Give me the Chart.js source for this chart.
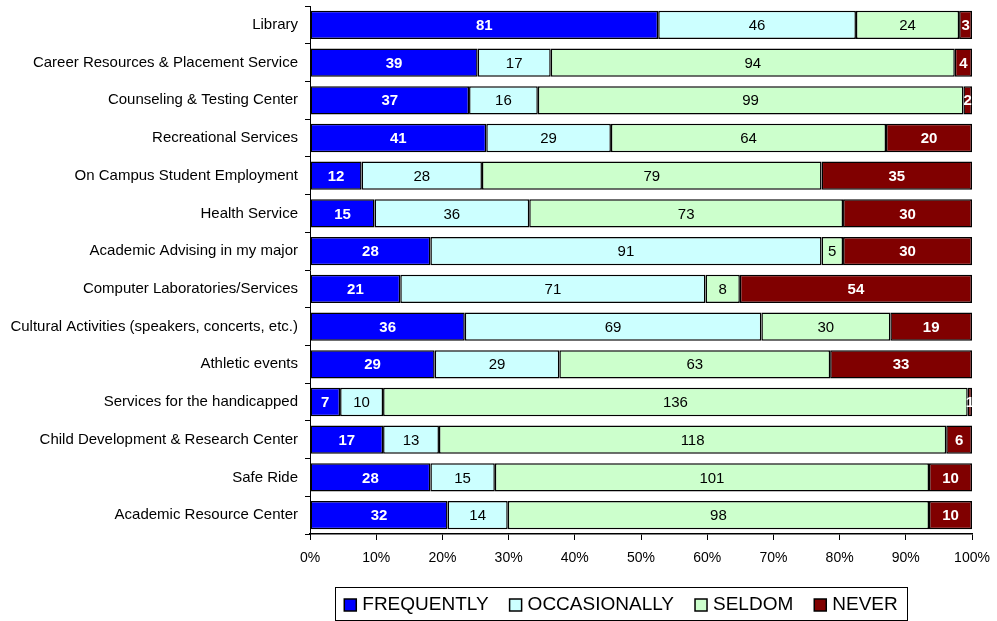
<!DOCTYPE html>
<html><head><meta charset="utf-8">
<script src="https://cdn.jsdelivr.net/npm/chart.js@4"></script>
<style>html,body{margin:0;padding:0;background:#fff}#wrap{width:997px;height:621px}</style>
</head><body><div id="wrap"><canvas id="c" width="997" height="621"></canvas></div>
<script>
const categories = ["Library","Career Resources & Placement Service","Counseling & Testing Center","Recreational Services","On Campus Student Employment","Health Service","Academic Advising in my major","Computer Laboratories/Services","Cultural Activities (speakers, concerts, etc.)","Athletic events","Services for the handicapped","Child Development & Research Center","Safe Ride","Academic Resource Center"];
const frequently   = [81,39,37,41,12,15,28,21,36,29,7,17,28,32];
const occasionally = [46,17,16,29,28,36,91,71,69,29,10,13,15,14];
const seldom       = [24,94,99,64,79,73,5,8,30,63,136,118,101,98];
const never        = [3,4,2,20,35,30,30,54,19,33,1,6,10,10];
const seriesNames = ["FREQUENTLY","OCCASIONALLY","SELDOM","NEVER"];
const seriesColors = ["#0000FF","#CCFFFF","#CCFFCC","#800000"];
const labelColors = ["#fff","#000","#000","#fff"];
const labelWeights = ["bold","normal","normal","bold"];

const raw = [frequently, occasionally, seldom, never];
const totals = categories.map((_, i) => raw.reduce((s, a) => s + a[i], 0));
const datasets = raw.map((arr, k) => ({
  label: seriesNames[k],
  data: arr.map((v, i) => v / totals[i] * 100),
  counts: arr,
  backgroundColor: seriesColors[k],
  borderColor: "#000",
  borderWidth: 1.5,
  borderSkipped: false,
  barPercentage: 0.75,
  categoryPercentage: 1
}));

const FONT = "'Liberation Sans', Arial, sans-serif";

const valueLabels = {
  id: "valueLabels",
  afterDatasetsDraw(chart) {
    const ctx = chart.ctx;
    ctx.save();
    ctx.textAlign = "center";
    ctx.textBaseline = "middle";
    chart.data.datasets.forEach((ds, k) => {
      const meta = chart.getDatasetMeta(k);
      ctx.fillStyle = labelColors[k];
      ctx.font = labelWeights[k] + " 15px " + FONT;
      meta.data.forEach((el, i) => {
        const p = el.getCenterPoint();
        ctx.fillText(String(ds.counts[i]), p.x, p.y + 1);
      });
    });
    ctx.restore();
  }
};

// legend drawn in a boxed frame below the x axis
const boxedLegend = {
  id: "boxedLegend",
  afterDraw(chart) {
    const ctx = chart.ctx;
    ctx.save();
    ctx.font = "19px " + FONT;
    const sq = 12, gapText = 6, gapItem = 21;
    const widths = chart.data.datasets.map(ds => ctx.measureText(ds.label).width);
    const total = widths.reduce((s, w) => s + sq + gapText + w, 0) + gapItem * (widths.length - 1);
    const cx = 621;
    let x = cx - total / 2;
    const cy = 604;
    ctx.strokeStyle = "#000";
    ctx.lineWidth = 1;
    ctx.strokeRect(335.5, 587.5, 572, 33);
    ctx.textBaseline = "middle";
    ctx.textAlign = "left";
    chart.data.datasets.forEach((ds, k) => {
      ctx.fillStyle = seriesColors[k];
      ctx.fillRect(x, cy - sq / 2 + 1, sq, sq);
      ctx.lineWidth = 1.5;
      ctx.strokeRect(x, cy - sq / 2 + 1, sq, sq);
      ctx.fillStyle = "#000";
      ctx.fillText(ds.label, x + sq + gapText, cy + 1);
      x += sq + gapText + widths[k] + gapItem;
    });
    ctx.restore();
  }
};

new Chart(document.getElementById("c"), {
  type: "bar",
  data: { labels: categories, datasets },
  plugins: [valueLabels, boxedLegend],
  options: {
    indexAxis: "y",
    responsive: false,
    animation: false,
    layout: { padding: { top: 6, right: 25, bottom: 42, left: 0 } },
    plugins: {
      tooltip: { enabled: false },
      legend: { display: false }
    },
    scales: {
      x: {
        stacked: true, min: 0, max: 100,
        ticks: { stepSize: 10, callback: v => v + "%", color: "#000", font: { family: FONT, size: 14 }, padding: 10 },
        grid: { drawOnChartArea: false, drawTicks: true, tickLength: 6, color: "#000" },
        border: { color: "#000", width: 1.5 },
        afterFit(s) { s.height = 45; s.paddingLeft = 0; s.paddingRight = 0; }
      },
      y: {
        stacked: true,
        ticks: { color: "#000", font: { family: FONT, size: 15 }, padding: 7 },
        grid: { offset: true, drawOnChartArea: false, tickLength: 5, color: "#000" },
        border: { color: "#000", width: 1 },
        afterFit(s) { s.width = 310; s.paddingTop = 0; s.paddingBottom = 0; }
      }
    }
  }
});
</script></body></html>
